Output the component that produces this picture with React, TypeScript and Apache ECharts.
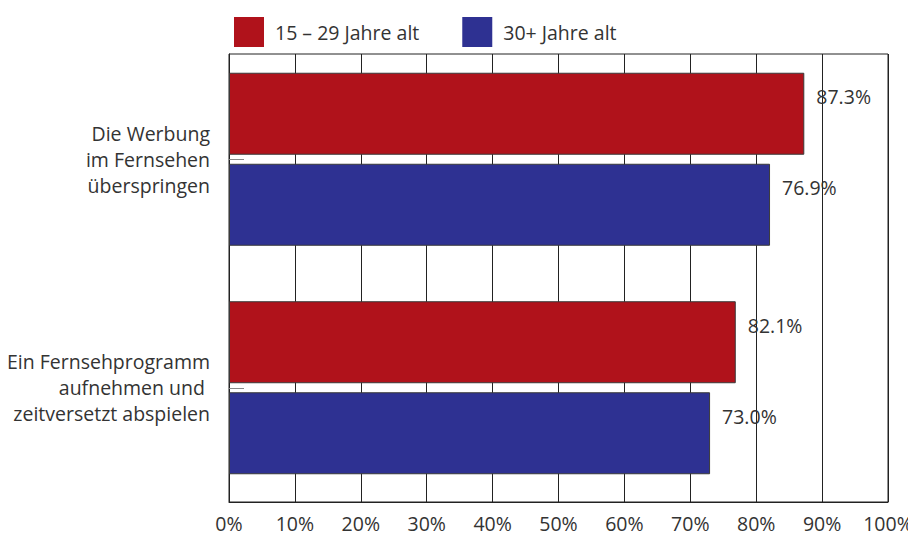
import React, { useEffect, useRef } from "react";
import * as echarts from "echarts";

const categories = [
  "Die Werbung\nim Fernsehen\nüberspringen",
  "Ein Fernsehprogramm\naufnehmen und \nzeitversetzt abspielen",
];
const seriesNames = ["15 – 29 Jahre alt", "30+ Jahre alt"];
const youngValues = [87.3, 76.9];
const olderValues = [82.1, 73.0];
const youngLabels = ["87.3%", "82.1%"];
const olderLabels = ["76.9%", "73.0%"];
const xTicks = [0, 10, 20, 30, 40, 50, 60, 70, 80, 90, 100];

const FONT = "'Open Sans', 'Noto Sans', sans-serif";
const TEXT = "#333333";
const RED = "#B0121B";
const BLUE = "#2E3192";
const FS = 19.5;

export default function App() {
  const ref = useRef<HTMLDivElement>(null);
  useEffect(() => {
    if (!ref.current) return;
    const chart = echarts.init(ref.current, undefined, { renderer: "svg" });
    const labelStyle = (texts: string[]) => ({
      show: true,
      position: "right" as const,
      distance: 12,
      offset: [0, -17],
      color: TEXT,
      fontSize: FS,
      fontFamily: FONT,
      formatter: (p: any) => texts[p.dataIndex],
    });
    chart.setOption({
      animation: false,
      textStyle: { fontFamily: FONT },
      legend: {
        left: 229,
        top: 12,
        itemWidth: 30,
        itemHeight: 30,
        itemGap: 43,
        icon: "rect",
        itemStyle: { borderWidth: 0 },
        textStyle: { color: TEXT, fontSize: FS, fontFamily: FONT, padding: [0, 0, 0, 6] },
        data: seriesNames,
      },
      grid: [
        { left: 229, right: 28, top: 54, bottom: 33, show: true, borderColor: "#222", borderWidth: 1, z: 0 },
        { left: 229, right: 28, top: 45, bottom: 33 },
      ],
      xAxis: [
        {
          gridIndex: 0,
          type: "value",
          min: 0,
          max: 100,
          interval: 10,
          axisLine: { show: true, lineStyle: { color: "#222", width: 1 } },
          axisTick: { show: false },
          splitLine: { show: true, lineStyle: { color: "#222", width: 1 } },
          axisLabel: {
            color: TEXT,
            fontSize: FS,
            fontFamily: FONT,
            margin: 11,
            formatter: (v: number) => (xTicks.includes(v) ? v + "%" : ""),
          },
        },
        {
          gridIndex: 1,
          type: "value",
          min: 0,
          max: 100,
          show: false,
          splitLine: { show: false },
        },
      ],
      yAxis: [
        {
          gridIndex: 0,
          type: "category",
          data: categories,
          inverse: true,
          axisLine: { show: true, lineStyle: { color: "#222", width: 1 } },
          axisTick: { show: false },
          axisLabel: { show: false },
        },
        {
          gridIndex: 1,
          type: "category",
          data: categories,
          inverse: true,
          axisLine: { show: false },
          axisTick: {
            show: true,
            inside: true,
            length: 15,
            alignWithLabel: true,
            lineStyle: { color: "#888", width: 1 },
          },
          axisLabel: {
            color: TEXT,
            fontSize: FS,
            fontFamily: FONT,
            lineHeight: 26,
            margin: 19,
            align: "right",
          },
          z: 5,
        },
      ],
      series: [
        {
          name: seriesNames[0],
          type: "bar",
          xAxisIndex: 1,
          yAxisIndex: 1,
          data: youngValues,
          barWidth: 82,
          barGap: "11%",
          itemStyle: { color: RED, borderColor: "#3a3a3a", borderWidth: 1 },
          label: labelStyle(youngLabels),
        },
        {
          name: seriesNames[1],
          type: "bar",
          xAxisIndex: 1,
          yAxisIndex: 1,
          data: olderValues,
          barWidth: 82,
          barGap: "11%",
          itemStyle: { color: BLUE, borderColor: "#3a3a3a", borderWidth: 1 },
          label: labelStyle(olderLabels),
        },
      ],
    });
    return () => chart.dispose();
  }, []);
  return <div ref={ref} style={{ width: 916, height: 535, marginLeft: -8, marginTop: -8 }} />;
}
